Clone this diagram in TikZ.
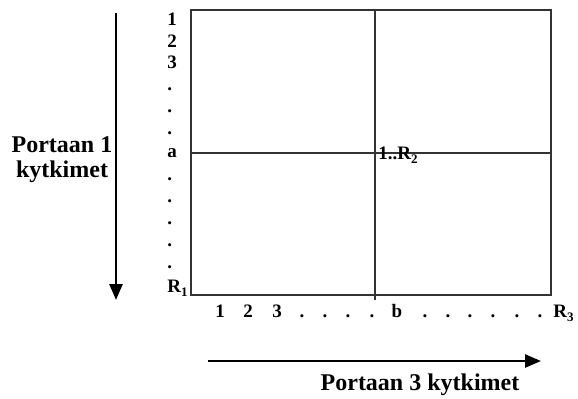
\documentclass[tikz,border=0pt]{standalone}
\usepackage{fontspec}
\setmainfont{Liberation Serif}
\usetikzlibrary{arrows.meta,positioning}
\newcommand{\lowsub}[1]{\raisebox{-2pt}{\fontsize{6.5}{7}\selectfont #1}}
\tikzset{
  lbl/.style={font=\bfseries\fontsize{9.5}{11}\selectfont,inner sep=0pt,anchor=base},
  ttl/.style={font=\bfseries\fontsize{12}{12.5}\selectfont,inner sep=0pt,align=center},
  gridln/.style={line width=0.6pt,black!80},
  bigarr/.style={line width=1.3pt,-{Triangle[length=8pt,width=6.5pt]}},
}

\begin{document}
\begin{tikzpicture}[x=0.5pt,y=-0.5pt]
        \useasboundingbox (0,0) rectangle (578,398);
        % switch field
        \coordinate (nw) at (191,10);
        \coordinate (se) at (551,295);
        \coordinate (vt) at (375,10);  \coordinate (vb) at (375,300);
        \coordinate (hl) at (191,153); \coordinate (hr) at (551,153);
        \draw[gridln] (nw) rectangle (se);
        \draw[gridln] (vt) -- (vb);
        \draw[gridln] (hl) -- (hr);
        % row labels
        \foreach \t/\y [count=\i] in {1/25,2/47,3/68,./90,./112,./134,a/157,./180,./202,./224,./246,./268,R\lowsub{1}/292}
          \node[lbl,anchor=base west] (r\i) at (167,\y) {\t};
        % column labels
        \foreach \t/\x [count=\i] in {1/220,2/248,3/277,./302,./325,./348,./372,b/397,./425,./448,./470,./493,./517,./540}
          \node[lbl] (c\i) at (\x,317) {\t};
        \node[lbl,anchor=base west] (cr) at (553,317) {R\lowsub{3}};
        \node[lbl,anchor=base west] (mid) at (378,159) {1..R\lowsub{2}};
        % arrows
        \coordinate (p1a) at (116,13);  \coordinate (p1b) at (116,300);
        \coordinate (p3a) at (208,361); \coordinate (p3b) at (541,361);
        \draw[bigarr] (p1a) -- (p1b);
        \draw[bigarr] (p3a) -- (p3b);
        \node[ttl] (t1) at (62,160) {Portaan 1\\kytkimet};
        \node[ttl,anchor=base] (t3) at (420,390) {Portaan 3 kytkimet};
      \end{tikzpicture}
\end{document}
